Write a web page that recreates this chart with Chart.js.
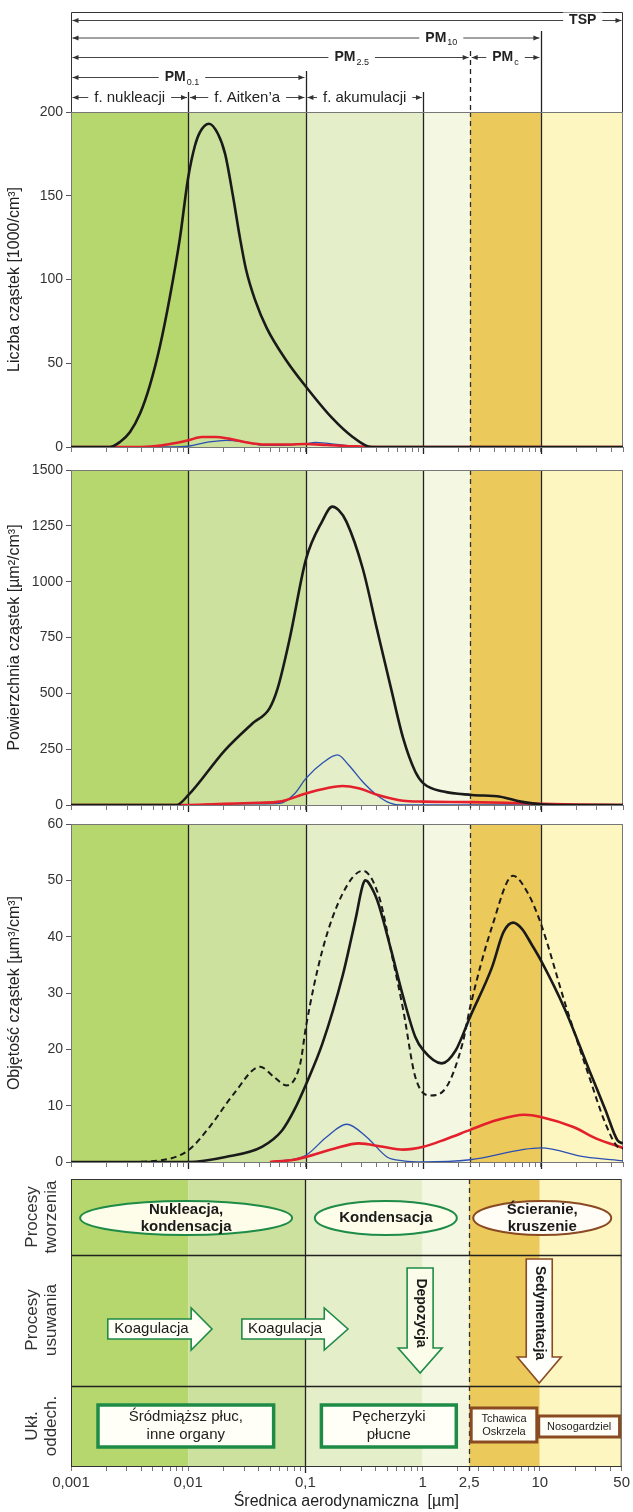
<!DOCTYPE html>
<html>
<head>
<meta charset="utf-8">
<title>Rozkład wielkości cząstek</title>
<script src="https://cdn.jsdelivr.net/npm/chart.js"></script>
<style>
  body { margin: 0; background: #fff; }
  #wrap { position: relative; width: 633px; height: 1512px; }
  #wrap canvas { position: absolute; left: 0; }
</style>
</head>
<body>
<div id="wrap">
  <canvas id="numChart" width="633" height="460" style="top:0"></canvas>
  <canvas id="surfChart" width="633" height="362" style="top:456px"></canvas>
  <canvas id="volChart" width="633" height="363" style="top:812px"></canvas>
  <canvas id="procChart" width="633" height="347" style="top:1165px"></canvas>
</div>

<script>
    // curves: [diameter in µm, value]
    const numTotal = [[0.001,0],[0.00215,0],[0.00261,3],[0.00318,9],[0.00387,20],[0.0047,37],[0.00571,60],[0.00696,90],[0.00847,125],[0.0099,160],[0.01136,180],[0.01253,188],[0.01494,193],[0.0178,187],[0.0205,175],[0.0239,150],[0.0274,125],[0.0309,106],[0.0368,88],[0.0464,71],[0.0683,51.5],[0.1,36],[0.166,17.5],[0.25,6],[0.36,0],[1,0],[50,0]];
    const numRed = [[0.001,0],[0.004,0],[0.006,1],[0.008,2.5],[0.01,4],[0.013,6],[0.017,6],[0.022,5],[0.03,3],[0.045,1.5],[0.07,1.5],[0.1,1.8],[0.15,1.2],[0.25,0.4],[0.4,0],[50,0]];
    const numBlue = [[0.001,0],[0.007,0],[0.01,0.5],[0.015,3],[0.021,4],[0.03,3],[0.045,1],[0.07,1.2],[0.1,2],[0.12,2.8],[0.16,2],[0.25,0.5],[0.35,0],[50,0]];

    const surfTotal = [[0.001,0],[0.0079,0],[0.01,45],[0.0204,245],[0.035,365],[0.049,433],[0.0574,522],[0.0728,746],[0.1,1100],[0.137,1269],[0.1675,1336],[0.19,1320],[0.221,1269],[0.304,1060],[0.401,791],[0.53,522],[0.673,298],[0.853,149],[1,97],[1.486,60],[2.59,45],[4.52,37],[6.73,15],[10,3],[15,0],[50,0]];
    const surfRed = [[0.001,0],[0.01,0],[0.02,5],[0.04,10],[0.06,15],[0.1,52],[0.15,75],[0.204,85],[0.28,75],[0.41,45],[0.67,19],[1,15],[2.5,13],[5,10],[10,5],[20,2],[50,0]];
    const surfBlue = [[0.001,0],[0.01,0],[0.02,5],[0.04,5],[0.06,7],[0.08,50],[0.1,119],[0.14,190],[0.186,224],[0.23,180],[0.304,104],[0.4,45],[0.53,7],[0.65,0],[50,0]];

    const volTotal = [[0.001,0],[0.01,0],[0.0207,0.9],[0.0422,2.7],[0.0626,5.6],[0.0794,9.2],[0.1007,13.9],[0.138,21],[0.206,33.2],[0.245,40],[0.27,44],[0.29,47.3],[0.305,49.2],[0.32,50],[0.335,49.8],[0.36,48.8],[0.39,47.3],[0.419,45.5],[0.531,37.6],[0.673,29.3],[0.853,22.2],[1,19.8],[1.43,17.5],[1.88,19.8],[2.5,25.8],[3.84,34.6],[4.8,40.8],[5.8,42.5],[6.9,41.4],[8.3,38.7],[10,35.8],[16.1,27],[25.8,16.3],[35.5,9.2],[45,3.8],[50,3.3]];
    const volDashed = [[0.001,0],[0.00286,0],[0.00584,0.3],[0.01,2.1],[0.0151,6.2],[0.0243,12.1],[0.0406,16.9],[0.0535,15.1],[0.0679,13.6],[0.0895,17.5],[0.1,24],[0.138,37.6],[0.206,47.7],[0.305,51.7],[0.419,47.1],[0.543,36.4],[0.673,27],[0.853,15.1],[1.14,11.8],[1.57,13.3],[2.15,21],[2.5,27.5],[3.84,41.8],[5.79,50.8],[7.76,47.7],[10,42.3],[16.1,28.1],[25.8,15.1],[35.5,6.8],[45,2.7],[50,2.4]];
    const volRed = [[0.0494,0],[0.0794,0.4],[0.1,0.9],[0.176,2.4],[0.282,3.3],[0.452,2.7],[0.673,2.2],[1,2.7],[1.57,4.1],[2.5,5.7],[4.17,7.4],[7.23,8.4],[10,8],[18.9,6.2],[30,4.1],[50,2.5]];
    const volBlue = [[0.0494,0],[0.1,1.2],[0.149,4.4],[0.222,6.7],[0.33,4.4],[0.49,0.9],[0.673,0.2],[1,0],[2.5,0.4],[10,2.5],[23.8,0.9],[50,0.2]];

    // size bands and x axis labels
    const bandEdges = [0.001, 0.01, 0.1, 1, 2.5, 10, 50];
    const bandColors = ['#b6d66e', '#cbe19d', '#e4eec8', '#f4f7e1', '#ecc95b', '#fdf6c1'];
    const xLabelValues = [0.001, 0.01, 0.1, 1, 2.5, 10, 50];
    const xTickLabels = ['0,001', '0,01', '0,1', '1', '2,5', '10', '50'];

    const FONT = "'Liberation Sans', Arial, sans-serif";
    const GREEN = '#1e8b47';
    const BROWN = '#8a4a22';

    // minor + major ticks: 1..9 x 10^n, plus 2,5
    const xTickValues = [];
    for (let n = -3; n <= 1; n++) {
        for (let k = 1; k <= 9; k++) {
            const v = parseFloat((k * Math.pow(10, n)).toPrecision(6));
            if (v <= 50) xTickValues.push(v);
        }
    }
    xTickValues.push(2.5);
    xTickValues.sort((a, b) => a - b);

    function curve(points, color, width, dash, order) {
        return {
            data: points.map(p => ({ x: p[0], y: p[1] })),
            borderColor: color,
            borderWidth: width,
            borderDash: dash || [],
            pointRadius: 0,
            fill: false,
            tension: 0.4,
            cubicInterpolationMode: 'monotone',
            order: order
        };
    }

    function xAxis(showLabels) {
        return {
            type: 'logarithmic',
            min: 0.001,
            max: 50,
            afterBuildTicks: s => { s.ticks = xTickValues.map(v => ({ value: v })); },
            afterFit: s => { s.height = showLabels ? 46 : 13; },
            grid: { drawOnChartArea: false, tickLength: 5, color: '#777' },
            border: { display: false },
            ticks: {
                autoSkip: false,
                maxRotation: 0,
                padding: 3,
                color: '#333',
                font: { family: FONT, size: 15 },
                callback: v => {
                    if (!showLabels) return '';
                    const i = xLabelValues.indexOf(v);
                    return i >= 0 ? xTickLabels[i] : '';
                }
            },
            title: {
                display: showLabels,
                text: 'Średnica aerodynamiczna  [µm]',
                color: '#222',
                font: { family: FONT, size: 16 },
                padding: { top: 0, bottom: 1 }
            }
        };
    }

    function yAxis(max, step, title) {
        return {
            min: 0,
            max: max,
            afterFit: s => { s.width = 71; },
            ticks: { stepSize: step, color: '#333', padding: 3, font: { family: FONT, size: 14 }, callback: v => String(v) },
            grid: { drawOnChartArea: false, tickLength: 5, color: '#555' },
            border: { color: '#333' },
            title: {
                display: true,
                text: title,
                color: '#222',
                font: { family: FONT, size: 16 },
                padding: { top: 5, bottom: 0 }
            }
        };
    }

    // coloured size bands, vertical boundaries, frame
    const bandPlugin = {
        id: 'bands',
        beforeDraw(chart, args, opts) {
            const { ctx, chartArea: a, scales: { x } } = chart;
            ctx.save();
            for (let i = 0; i < bandColors.length; i++) {
                const x0 = x.getPixelForValue(bandEdges[i]);
                const x1 = x.getPixelForValue(bandEdges[i + 1]);
                ctx.fillStyle = bandColors[i];
                ctx.fillRect(x0, a.top, x1 - x0, a.bottom - a.top);
            }
            ctx.restore();
        },
        beforeDatasetsDraw(chart, args, opts) {
            const { ctx, chartArea: a, scales: { x } } = chart;
            ctx.save();
            ctx.strokeStyle = '#222';
            ctx.lineWidth = 1.3;
            (opts.solid || []).forEach(v => {
                const px = Math.round(x.getPixelForValue(v)) + 0.5;
                ctx.beginPath();
                ctx.moveTo(px, a.top);
                ctx.lineTo(px, a.bottom + 7);
                ctx.stroke();
            });
            ctx.strokeStyle = '#333';
            ctx.lineWidth = 1.3;
            ctx.setLineDash([5, 4]);
            (opts.dashed || []).forEach(v => {
                const px = Math.round(x.getPixelForValue(v)) + 0.5;
                ctx.beginPath();
                ctx.moveTo(px, a.top);
                ctx.lineTo(px, a.bottom + 5);
                ctx.stroke();
            });
            ctx.setLineDash([]);
            (opts.rows || []).forEach(dy => {
                ctx.strokeStyle = '#222';
                ctx.lineWidth = 1.3;
                ctx.beginPath();
                ctx.moveTo(a.left, a.top + dy + 0.5);
                ctx.lineTo(a.right, a.top + dy + 0.5);
                ctx.stroke();
            });
            ctx.strokeStyle = opts.frame || '#777';
            ctx.lineWidth = 1;
            ctx.strokeRect(a.left + 0.5, a.top + 0.5, a.right - a.left - 1, a.bottom - a.top);
            ctx.restore();
        }
    };

    function arrowHead(ctx, x, y, dir) {
        ctx.beginPath();
        ctx.moveTo(x, y);
        ctx.lineTo(x - dir * 6, y - 2.5);
        ctx.lineTo(x - dir * 6, y + 2.5);
        ctx.closePath();
        ctx.fill();
    }

    // PM size ranges drawn above the first panel
    const rangePlugin = {
        id: 'ranges',
        afterDraw(chart) {
            const { ctx, chartArea: a, scales: { x } } = chart;
            const px = v => x.getPixelForValue(v);
            ctx.save();
            ctx.strokeStyle = '#333';
            ctx.lineWidth = 1;
            ctx.beginPath();
            ctx.moveTo(a.left + 0.5, a.top);
            ctx.lineTo(a.left + 0.5, 12.5);
            ctx.lineTo(a.right - 0.5, 12.5);
            ctx.lineTo(a.right - 0.5, a.top);
            ctx.stroke();

            ctx.strokeStyle = '#222';
            ctx.lineWidth = 1.3;
            [[0.01, 92], [0.1, 71], [1, 92], [10, 31]].forEach(([v, y0]) => {
                const p = Math.round(px(v)) + 0.5;
                ctx.beginPath(); ctx.moveTo(p, y0); ctx.lineTo(p, a.top); ctx.stroke();
            });
            ctx.setLineDash([5, 4]);
            const p25 = Math.round(px(2.5)) + 0.5;
            ctx.beginPath(); ctx.moveTo(p25, 51); ctx.lineTo(p25, a.top); ctx.stroke();
            ctx.setLineDash([]);

            const ranges = [
                { main: 'TSP', sub: '', from: 0.001, to: 50, at: 22.7, y: 20, bold: true },
                { main: 'PM', sub: '10', from: 0.001, to: 10, at: 1.42, y: 37.5, bold: true },
                { main: 'PM', sub: '2.5', from: 0.001, to: 2.5, at: 0.245, y: 57, bold: true },
                { main: 'PM', sub: 'c', from: 2.5, to: 10, at: 5, y: 57, bold: true },
                { main: 'PM', sub: '0.1', from: 0.001, to: 0.1, at: 0.0088, y: 77, bold: true },
                { main: 'f. nukleacji', sub: '', from: 0.001, to: 0.01, at: 0.00316, y: 97 },
                { main: 'f. Aitken’a', sub: '', from: 0.01, to: 0.1, at: 0.0316, y: 97 },
                { main: 'f. akumulacji', sub: '', from: 0.1, to: 1, at: 0.316, y: 97 }
            ];
            ranges.forEach(r => {
                const x0 = px(r.from) + 1.5, x1 = px(r.to) - 1.5, y = r.y + 0.5;
                const mainFont = (r.bold ? 'bold 14px ' : '15px ') + FONT;
                ctx.strokeStyle = '#444';
                ctx.fillStyle = '#333';
                ctx.lineWidth = 1;
                ctx.beginPath(); ctx.moveTo(x0, y); ctx.lineTo(x1, y); ctx.stroke();
                arrowHead(ctx, x0, y, -1);
                arrowHead(ctx, x1, y, 1);

                ctx.font = mainFont;
                const w1 = ctx.measureText(r.main).width;
                ctx.font = '9px ' + FONT;
                const w2 = r.sub ? ctx.measureText(r.sub).width + 1 : 0;
                const w = w1 + w2;
                const cx = px(r.at);
                ctx.fillStyle = '#fff';
                ctx.fillRect(cx - w / 2 - 6, y - 8, w + 12, 17);
                ctx.fillStyle = '#222';
                ctx.textBaseline = 'middle';
                ctx.textAlign = 'left';
                ctx.font = mainFont;
                ctx.fillText(r.main, cx - w / 2, y);
                if (r.sub) {
                    ctx.font = '9px ' + FONT;
                    ctx.fillText(r.sub, cx - w / 2 + w1 + 1, y + 5);
                }
            });
            ctx.restore();
        }
    };

    function textLines(ctx, lines, cx, cy, font, lh, color) {
        ctx.font = font;
        ctx.fillStyle = color;
        ctx.textAlign = 'center';
        ctx.textBaseline = 'middle';
        const y0 = cy - (lines.length - 1) * lh / 2;
        lines.forEach((t, i) => ctx.fillText(t, cx, y0 + i * lh));
    }

    // process boxes in the lower panel
    const processPlugin = {
        id: 'processes',
        afterDraw(chart) {
            const { ctx, chartArea: a, scales: { x } } = chart;
            const px = v => x.getPixelForValue(v);
            const t = a.top;
            ctx.save();

            // row titles
            [['Procesy', 'tworzenia', 38], ['Procesy', 'usuwania', 141], ['Ukł.', 'oddech.', 247]].forEach(([l1, l2, dy]) => {
                ctx.save();
                ctx.translate(42, t + dy);
                ctx.rotate(-Math.PI / 2);
                textLines(ctx, [l1, l2], 0, 0, '17px ' + FONT, 19, '#333');
                ctx.restore();
            });

            // ellipses: formation processes
            const ellipses = [
                { at: 0.0096, rx: 106, lines: ['Nukleacja,', 'kondensacja'], stroke: GREEN, fill: '#fdfdea' },
                { at: 0.486, rx: 71, lines: ['Kondensacja'], stroke: GREEN, fill: '#fdfdea' },
                { at: 10.5, rx: 69, lines: ['Ścieranie,', 'kruszenie'], stroke: BROWN, fill: '#fffdf6' }
            ];
            ellipses.forEach(e => {
                ctx.beginPath();
                ctx.ellipse(px(e.at), t + 39, e.rx, 17, 0, 0, Math.PI * 2);
                ctx.fillStyle = e.fill;
                ctx.fill();
                ctx.lineWidth = 2;
                ctx.strokeStyle = e.stroke;
                ctx.stroke();
                textLines(ctx, e.lines, px(e.at), t + 39, 'bold 15px ' + FONT, 17, '#1a1a1a');
            });

            // horizontal arrows: coagulation
            [[0.00206, 0.0106, 0.01596], [0.0287, 0.145, 0.231]].forEach(([f, b, tip]) => {
                const x0 = px(f), xb = px(b), xt = px(tip), cy = t + 150;
                ctx.beginPath();
                ctx.moveTo(x0, cy - 10);
                ctx.lineTo(xb, cy - 10);
                ctx.lineTo(xb, cy - 21);
                ctx.lineTo(xt, cy);
                ctx.lineTo(xb, cy + 21);
                ctx.lineTo(xb, cy + 10);
                ctx.lineTo(x0, cy + 10);
                ctx.closePath();
                ctx.fillStyle = '#fffff6';
                ctx.fill();
                ctx.lineWidth = 1.6;
                ctx.strokeStyle = GREEN;
                ctx.stroke();
                textLines(ctx, ['Koagulacja'], (x0 + xb) / 2 + 2, cy, '15px ' + FONT, 17, '#1a1a1a');
            });

            // vertical arrows: deposition, sedimentation
            [
                { at: 0.953, top: 89, head: 169, tip: 194, bw: 13, hw: 22, stroke: GREEN, fill: '#fbfce9', text: 'Depozycja', ty: 134 },
                { at: 9.9, top: 80, head: 178, tip: 204, bw: 13, hw: 22, stroke: BROWN, fill: '#fffffb', text: 'Sedymentacja', ty: 134 }
            ].forEach(d => {
                const cx = px(d.at);
                ctx.beginPath();
                ctx.moveTo(cx - d.bw, t + d.top);
                ctx.lineTo(cx + d.bw, t + d.top);
                ctx.lineTo(cx + d.bw, t + d.head);
                ctx.lineTo(cx + d.hw, t + d.head);
                ctx.lineTo(cx, t + d.tip);
                ctx.lineTo(cx - d.hw, t + d.head);
                ctx.lineTo(cx - d.bw, t + d.head);
                ctx.closePath();
                ctx.fillStyle = d.fill;
                ctx.fill();
                ctx.lineWidth = 1.6;
                ctx.strokeStyle = d.stroke;
                ctx.stroke();
                ctx.save();
                ctx.translate(cx + 1, t + d.ty);
                ctx.rotate(Math.PI / 2);
                textLines(ctx, [d.text], 0, 0, 'bold 14px ' + FONT, 16, '#1a1a1a');
                ctx.restore();
            });

            // boxes: respiratory system
            [
                { from: 0.0017, to: 0.0536, y0: 226, y1: 268, stroke: GREEN, lw: 3.5, lines: ['Śródmiąższ płuc,', 'inne organy'], font: '15px ', lh: 18 },
                { from: 0.137, to: 1.94, y0: 226, y1: 268, stroke: GREEN, lw: 3.5, lines: ['Pęcherzyki', 'płucne'], font: '15px ', lh: 18 },
                { from: 2.6, to: 9.44, y0: 229, y1: 263, stroke: BROWN, lw: 3, lines: ['Tchawica', 'Oskrzela'], font: '11px ', lh: 13 },
                { from: 9.8, to: 48, y0: 237, y1: 258, stroke: BROWN, lw: 3, lines: ['Nosogardziel'], font: '11px ', lh: 13 }
            ].forEach(b => {
                const x0 = px(b.from), x1 = px(b.to);
                ctx.fillStyle = '#fffff7';
                ctx.fillRect(x0, t + b.y0, x1 - x0, b.y1 - b.y0);
                ctx.lineWidth = b.lw;
                ctx.strokeStyle = b.stroke;
                ctx.strokeRect(x0, t + b.y0, x1 - x0, b.y1 - b.y0);
                textLines(ctx, b.lines, (x0 + x1) / 2, t + (b.y0 + b.y1) / 2, b.font + FONT, b.lh, '#222');
            });
            ctx.restore();
        }
    };

    function panel(id, datasets, yMax, yStep, yTitle, topPad, extra) {
        return new Chart(document.getElementById(id), {
            type: 'line',
            data: { datasets: datasets },
            options: {
                responsive: false,
                animation: false,
                layout: { padding: { top: topPad, right: 10, left: 0, bottom: 0 } },
                scales: { x: xAxis(false), y: yAxis(yMax, yStep, yTitle) },
                plugins: {
                    legend: { display: false },
                    tooltip: { enabled: false },
                    bands: { solid: [0.01, 0.1, 1, 10], dashed: [2.5] }
                }
            },
            plugins: [bandPlugin].concat(extra || [])
        });
    }

    window.onload = function() {
        panel('numChart', [
            curve(numTotal, '#1a1a1a', 2.6, null, 1),
            curve(numRed, '#e3202c', 2.6, null, 2),
            curve(numBlue, '#2b4fb2', 1.3, null, 3)
        ], 200, 50, 'Liczba cząstek [1000/cm³]', 112, [rangePlugin]);

        panel('surfChart', [
            curve(surfTotal, '#1a1a1a', 2.6, null, 1),
            curve(surfRed, '#e3202c', 2.6, null, 2),
            curve(surfBlue, '#2b4fb2', 1.3, null, 3)
        ], 1500, 250, 'Powierzchnia cząstek [µm²/cm³]', 14);

        panel('volChart', [
            curve(volTotal, '#1a1a1a', 2.6, null, 1),
            curve(volDashed, '#1a1a1a', 2, [6, 4], 2),
            curve(volRed, '#e3202c', 2.6, null, 3),
            curve(volBlue, '#2b4fb2', 1.3, null, 4)
        ], 60, 10, 'Objętość cząstek [µm³/cm³]', 12);

        new Chart(document.getElementById('procChart'), {
            type: 'line',
            data: { datasets: [] },
            options: {
                responsive: false,
                animation: false,
                layout: { padding: { top: 14, right: 10, left: 0, bottom: 0 } },
                scales: {
                    x: xAxis(true),
                    y: {
                        min: 0, max: 1,
                        afterFit: s => { s.width = 71; },
                        ticks: { display: false },
                        grid: { display: false },
                        border: { display: false }
                    }
                },
                plugins: {
                    legend: { display: false },
                    tooltip: { enabled: false },
                    bands: { solid: [0.1], dashed: [2.5], rows: [76, 207], frame: '#333' }
                }
            },
            plugins: [bandPlugin, processPlugin]
        });
    };
</script>
</body>
</html>
